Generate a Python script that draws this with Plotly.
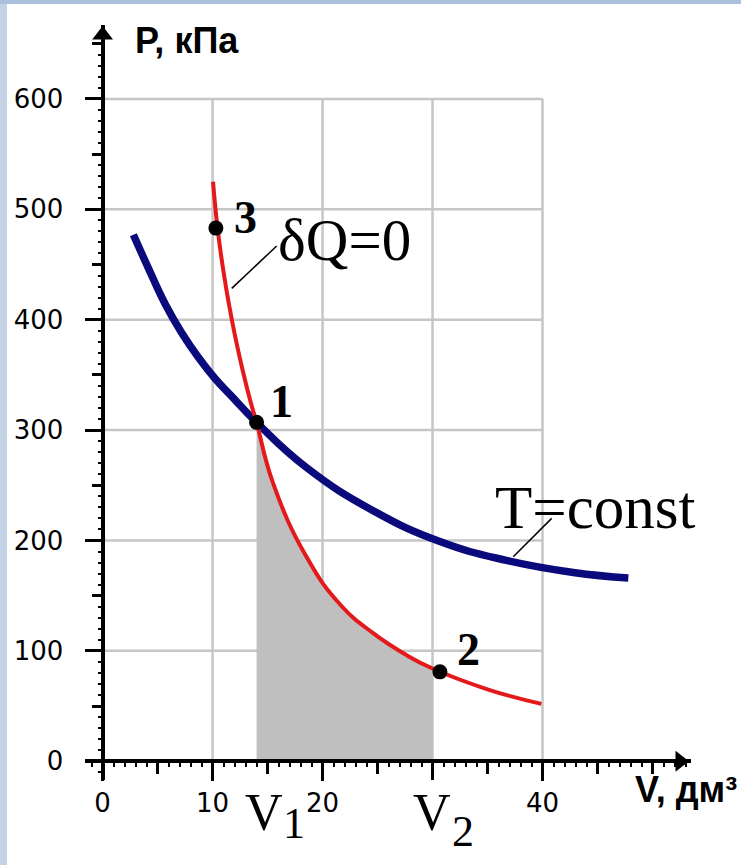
import plotly.graph_objects as go

# ---- data ----
blue_v = [2.8, 4.15, 5.7, 7.2, 8.7, 10.2, 11.7, 14.0, 18.55, 24.6, 30.67, 36.7, 42.8, 47.8]
blue_p = [477, 447, 414, 388, 366, 347, 331, 307, 266, 227, 199, 182, 171, 166]

red_v = [10.04, 10.45, 10.97, 11.47, 12.07, 12.74, 13.5, 14.0, 15.5, 18.55, 21.6, 24.6, 27.65, 30.0, 35.2, 39.9]
red_p = [525, 483, 445, 415, 384, 354, 324, 307, 252, 185, 142, 116, 96, 84, 64.5, 52]

pts_v = [10.3, 14.0, 30.67]
pts_p = [483, 307, 81]
pts_lbl = ["3", "1", "2"]

V1, V2 = 14.0, 30.0

grid_x = [10, 20, 30, 40]
grid_y = [100, 200, 300, 400, 500, 600]
x_tickvals = [0, 10, 20, 40]
x_ticktext = ["0", "10", "20", "40"]
x_unlabelled_major = [30]
y_tickvals = [0, 100, 200, 300, 400, 500, 600]
y_ticktext = ["0", "100", "200", "300", "400", "500", "600"]

XR = [-1.6, 53.5]
YR = [-17, 667]


def xp(v):
    return (v - XR[0]) / (XR[1] - XR[0])


def yp(p):
    return (p - YR[0]) / (YR[1] - YR[0])


fig = go.Figure()

# grid (only inside 0..40, 0..600)
gx, gy = [], []
for v in grid_x:
    gx += [v, v, None]
    gy += [0, 600, None]
for p in grid_y:
    gx += [0, 40, None]
    gy += [p, p, None]
fig.add_trace(go.Scatter(x=gx, y=gy, mode="lines", line=dict(color="#c6c6c6", width=2.5),
                         hoverinfo="skip", showlegend=False))

# shaded work area under red curve between V1 and V2
fv = [v for v in red_v if V1 <= v <= V2]
fp = [p for v, p in zip(red_v, red_p) if V1 <= v <= V2]
fig.add_trace(go.Scatter(x=fv, y=fp, mode="lines", line=dict(width=0, shape="spline", smoothing=1.3),
                         fill="tozeroy", fillcolor="#bfbfbf", hoverinfo="skip", showlegend=False))

# curves
fig.add_trace(go.Scatter(x=blue_v, y=blue_p, mode="lines",
                         line=dict(color="#0a0a7d", width=7.5, shape="spline", smoothing=1.3),
                         showlegend=False))
fig.add_trace(go.Scatter(x=red_v, y=red_p, mode="lines",
                         line=dict(color="#e3191b", width=4, shape="spline", smoothing=1.3),
                         showlegend=False))

# leader lines
fig.add_trace(go.Scatter(x=[11.74, 15.83], y=[428.4, 466.8], mode="lines",
                         line=dict(color="black", width=1.5), showlegend=False, hoverinfo="skip"))
fig.add_trace(go.Scatter(x=[37.34, 40.83], y=[185.3, 220], mode="lines",
                         line=dict(color="black", width=1.5), showlegend=False, hoverinfo="skip"))

# points
fig.add_trace(go.Scatter(x=pts_v, y=pts_p, mode="markers",
                         marker=dict(color="black", size=15), showlegend=False))

# axis arrowheads
fig.add_trace(go.Scatter(x=[XR[1] - 1.0], y=[0], mode="markers", cliponaxis=False,
                         marker=dict(symbol="triangle-right", size=18, color="black"),
                         hoverinfo="skip", showlegend=False))
fig.add_trace(go.Scatter(x=[0], y=[YR[1] - 9], mode="markers", cliponaxis=False,
                         marker=dict(symbol="triangle-up", size=18, color="black"),
                         hoverinfo="skip", showlegend=False))

# invisible trace for the extra tick axes
fig.add_trace(go.Scatter(x=[0], y=[0], xaxis="x2", yaxis="y2", mode="markers",
                         marker=dict(opacity=0), hoverinfo="skip", showlegend=False))

xpos = yp(0)
ypos = xp(0)

tickfont = dict(family="DejaVu Sans", size=26, color="black")

fig.update_layout(
    width=741, height=865,
    margin=dict(l=85, r=50, t=25, b=85, autoexpand=False),
    paper_bgcolor="white", plot_bgcolor="white",
    showlegend=False,
    xaxis=dict(range=XR, anchor="free", position=xpos, showgrid=False, zeroline=False,
               automargin=False,
               showline=True, linecolor="black", linewidth=4,
               tickvals=x_tickvals, ticktext=x_ticktext, ticks="outside",
               ticklen=18, tickwidth=3, tickcolor="black", tickfont=tickfont,
               ticklabelstandoff=0,
               minor=dict(dtick=5, tick0=0, ticks="outside", ticklen=11, tickwidth=3,
                          tickcolor="black", showgrid=False)),
    yaxis=dict(range=YR, anchor="free", position=ypos, showgrid=False, zeroline=False,
               automargin=False,
               showline=True, linecolor="black", linewidth=4,
               tickvals=y_tickvals, ticktext=y_ticktext, ticks="outside",
               ticklen=16, tickwidth=3, tickcolor="black", tickfont=tickfont,
               ticklabelstandoff=16,
               minor=dict(dtick=50, tick0=0, ticks="outside", ticklen=9, tickwidth=3,
                          tickcolor="black", showgrid=False)),
    xaxis2=dict(range=XR, overlaying="x", anchor="free", position=xpos, showgrid=False,
                automargin=False,
                zeroline=False, showline=False, showticklabels=False, ticks="outside",
                tickvals=x_unlabelled_major, ticklen=18, tickwidth=3, tickcolor="black",
                minor=dict(dtick=1, tick0=0, ticks="outside", ticklen=5, tickwidth=2,
                           tickcolor="black", showgrid=False)),
    yaxis2=dict(range=YR, overlaying="y", anchor="free", position=ypos, showgrid=False,
                automargin=False,
                zeroline=False, showline=False, showticklabels=False, ticks="outside",
                dtick=10, tick0=0, ticklen=5, tickwidth=2, tickcolor="black"),
)

serif = "Liberation Serif"
ann = []
# point labels
lbl_pos = [(12.95, 493), (16.3, 326), (33.3, 101.6)]
for (lx, ly), t in zip(lbl_pos, pts_lbl):
    ann.append(dict(x=lx, y=ly, xref="x", yref="y", text="<b>" + t + "</b>", showarrow=False,
                    font=dict(family=serif, size=46, color="black"), xanchor="center", yanchor="middle"))
ann.append(dict(x=21.95, y=472, xref="x", yref="y", text="δQ=0", showarrow=False,
                font=dict(family=serif, size=59, color="black"), xanchor="center", yanchor="middle"))
ann.append(dict(x=44.8, y=230, xref="x", yref="y", text="T=const", showarrow=False,
                font=dict(family=serif, size=61, color="black"), xanchor="center", yanchor="middle"))
# V1, V2 (below the axis, paper-referenced in y); subscript as its own text beside V
for vx, sx, sy, sub in [(V1 - 1.15, V1 + 2.3, -56, "1"), (V2 - 1.9, V2 + 1.67, -64, "2")]:
    ann.append(dict(x=vx, y=yp(-46), xref="x", yref="paper", text="V", showarrow=False,
                    borderpad=0, font=dict(family=serif, size=52, color="black"),
                    xanchor="left", yanchor="middle"))
    ann.append(dict(x=sx, y=yp(sy), xref="x", yref="paper", text=sub, showarrow=False,
                    borderpad=0, font=dict(family=serif, size=44, color="black"),
                    xanchor="left", yanchor="middle"))
# axis titles
ann.append(dict(x=2.76, y=653, xref="x", yref="y", text="<b>P, кПа</b>", showarrow=False,
                font=dict(family="Liberation Sans", size=36, color="black"), xanchor="left", yanchor="middle"))
ann.append(dict(x=1.0, y=yp(-26), xref="paper", yref="paper", xanchor="right", yanchor="middle",
                xshift=48, text="<b>V, дм³</b>", showarrow=False,
                font=dict(family="Liberation Sans", size=36, color="black")))
fig.update_layout(annotations=ann)

# light blue frame strips (left and top)
fig.add_shape(type="rect", xref="paper", yref="paper", x0=-0.2, x1=(7 - 85) / 606,
              y0=-0.2, y1=1.2, fillcolor="#c3d2e4", line=dict(width=0), layer="above")
fig.add_shape(type="rect", xref="paper", yref="paper", x0=-0.2, x1=1.2,
              y0=(780 - 4) / 755, y1=1.2, fillcolor="#a9c1dc", line=dict(width=0), layer="above")

fig.write_html("out.html", config={"displayModeBar": False},
               post_script="document.body.style.margin='0';")
